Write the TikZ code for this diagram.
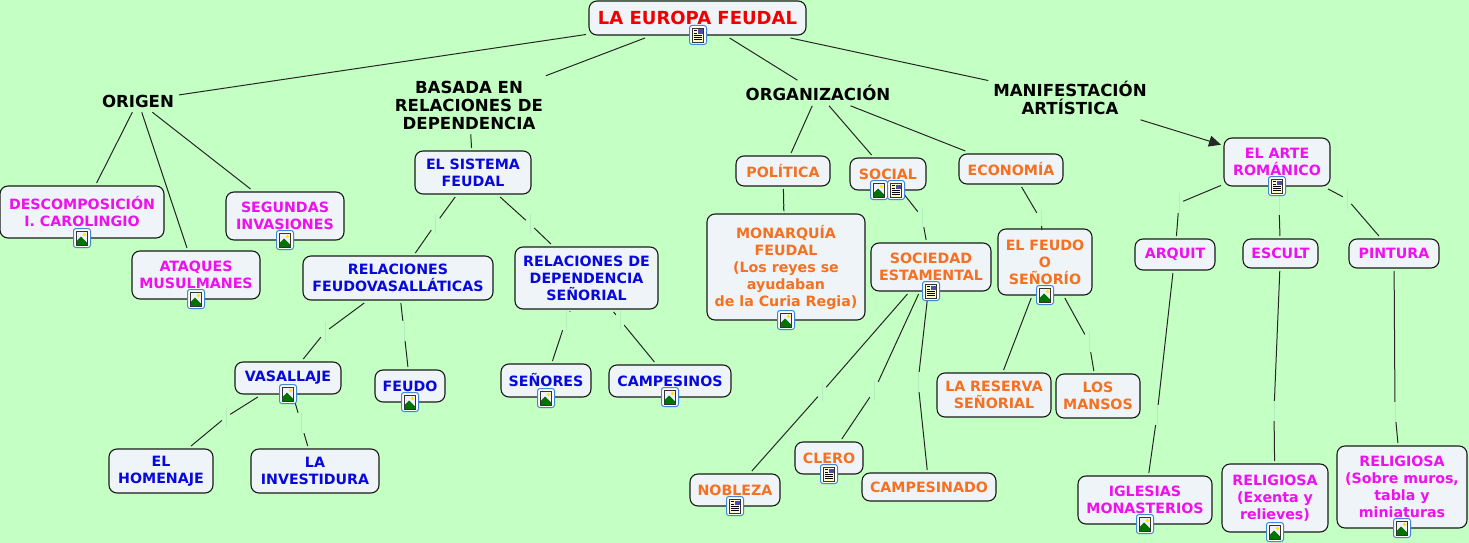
\documentclass[tikz,border=0pt]{standalone}
\usepackage{fontspec}
\setmainfont{DejaVu Sans}
\usetikzlibrary{arrows.meta}
\definecolor{bgcol}{HTML}{C4FFC4}
\definecolor{boxcol}{HTML}{EEF4F8}
\definecolor{palecol}{HTML}{B4EEBC}
\definecolor{magcol}{HTML}{EE10EE}
\definecolor{bluecol}{HTML}{0808DC}
\definecolor{orgcol}{HTML}{F57020}
\definecolor{redcol}{HTML}{EE0000}
\definecolor{framecol}{HTML}{3F86D6}
\tikzset{
  concept/.style={rectangle, rounded corners=8pt, draw=black!90, line width=1.1pt, fill=boxcol, inner sep=0pt, outer sep=3pt, align=center, font=\fontsize{14.2}{17}\selectfont\bfseries},
  plainlabel/.style={inner sep=2pt, outer sep=3pt, align=center, font=\fontsize{16.6}{18}\selectfont\bfseries, text=black},
  gapmark/.style={rectangle, minimum width=8pt, minimum height=20pt, inner sep=0pt, path picture={\draw[palecol, line width=0.8pt] (path picture bounding box.north) -- (path picture bounding box.south);}},
  link/.style={line width=1pt, color=black!85},
  iconframe/.style={rounded corners=2.5pt, fill=white, draw=framecol, line width=1pt},
  imgicon/.pic={
    \draw[iconframe] (-8.5pt,-9.5pt) rectangle (8.5pt,9.5pt);
    \fill[blue!6] (-5.5pt,-7pt) rectangle (5.5pt,7pt);
    \fill[green!45!black] (-5.5pt,-7pt) -- (-5.5pt,-3pt) -- (-1pt,1.5pt) -- (5.5pt,-5pt) -- (5.5pt,-7pt) -- cycle;
    \fill[yellow!90!orange] (2.5pt,3.5pt) circle (1.8pt);
    \draw[black!80, line width=0.7pt] (-5.5pt,-7pt) rectangle (5.5pt,7pt);
  },
  noteicon/.pic={
    \draw[iconframe] (-8.5pt,-9.5pt) rectangle (8.5pt,9.5pt);
    \fill[yellow!20] (-5.5pt,-7pt) rectangle (5.5pt,7pt);
    \fill[blue!40!gray] (0pt,1pt) rectangle (4.5pt,5.5pt);
    \draw[black, line width=0.7pt] (-4pt,4.5pt) -- (-1pt,4.5pt) (-4pt,2pt) -- (-1pt,2pt) (-4pt,-0.5pt) -- (4pt,-0.5pt) (-4pt,-2.5pt) -- (4pt,-2.5pt) (-4pt,-4.5pt) -- (4pt,-4.5pt);
    \draw[black!80, line width=0.7pt] (-5.5pt,-7pt) rectangle (5.5pt,7pt);
  },
}

\begin{document}
\begin{tikzpicture}
\useasboundingbox (0pt, 0pt) rectangle (1469pt, -543pt);
\fill[bgcol] (0pt, 0pt) rectangle (1469pt, -543pt);
% link label gaps
\node (g1) [gapmark] at (435.5pt, -224pt) {};
\node (g2) [gapmark] at (530pt, -224pt) {};
\node (g3) [gapmark] at (325pt, -332pt) {};
\node (g4) [gapmark] at (404pt, -331pt) {};
\node (g5) [gapmark] at (226pt, -417pt) {};
\node (g6) [gapmark] at (301pt, -423pt) {};
\node (g7) [gapmark] at (566pt, -320pt) {};
\node (g8) [gapmark] at (620pt, -320pt) {};
\node (g9) [gapmark] at (784pt, -216pt) {};
\node (g10) [gapmark] at (922pt, -217pt) {};
\node (g11) [gapmark] at (1041pt, -220pt) {};
\node (g12) [gapmark] at (822pt, -392pt) {};
\node (g13) [gapmark] at (874pt, -391pt) {};
\node (g14) [gapmark] at (918pt, -382pt) {};
\node (g15) [gapmark] at (1089pt, -342pt) {};
\node (g16) [gapmark] at (1179pt, -203pt) {};
\node (g17) [gapmark] at (1279pt, -205pt) {};
\node (g18) [gapmark] at (1347pt, -199pt) {};
\node (g19) [gapmark] at (1157pt, -415pt) {};
\node (g20) [gapmark] at (1274pt, -411pt) {};
\node (g21) [gapmark] at (1395pt, -412pt) {};
% top level
\node (europa) [concept, minimum width=217pt, minimum height=34pt, text=redcol, font=\fontsize{18}{20}\selectfont\bfseries] at (697.5pt, -18pt) {LA EUROPA FEUDAL};
\node (origen) [plainlabel] at (138pt, -101pt) {ORIGEN};
\node (basada) [plainlabel] at (469pt, -105pt) {BASADA EN\\RELACIONES DE\\DEPENDENCIA};
\node (organiza) [plainlabel] at (818pt, -93pt) {ORGANIZACIÓN};
\node (manifiesta) [plainlabel] at (1070pt, -98pt) {MANIFESTACIÓN\\ARTÍSTICA};
% origen
\node (descomp) [concept, minimum width=164pt, minimum height=52pt, text=magcol] at (82pt, -212pt) {DESCOMPOSICIÓN\\I. CAROLINGIO};
\node (ataques) [concept, minimum width=128pt, minimum height=48pt, text=magcol] at (196pt, -275pt) {ATAQUES\\MUSULMANES};
\node (segundas) [concept, minimum width=118pt, minimum height=48pt, text=magcol] at (285pt, -216pt) {SEGUNDAS\\INVASIONES};
% sistema feudal
\node (sistema) [concept, minimum width=116pt, minimum height=43pt, text=bluecol] at (473pt, -172.5pt) {EL SISTEMA\\FEUDAL};
\node (feudovas) [concept, minimum width=190pt, minimum height=44pt, text=bluecol] at (398pt, -278pt) {RELACIONES\\FEUDOVASALLÁTICAS};
\node (depsen) [concept, minimum width=143pt, minimum height=62pt, text=bluecol] at (586.5pt, -278pt) {RELACIONES DE\\DEPENDENCIA\\SEÑORIAL};
\node (vasallaje) [concept, minimum width=106pt, minimum height=32pt, text=bluecol] at (288pt, -378pt) {VASALLAJE};
\node (feudo) [concept, minimum width=70pt, minimum height=32pt, text=bluecol] at (410pt, -386pt) {FEUDO};
\node (senores) [concept, minimum width=90pt, minimum height=33pt, text=bluecol] at (546pt, -380.5pt) {SEÑORES};
\node (campos) [concept, minimum width=122pt, minimum height=32pt, text=bluecol] at (670pt, -381pt) {CAMPESINOS};
\node (homenaje) [concept, minimum width=104pt, minimum height=44pt, text=bluecol] at (161pt, -471pt) {EL\\HOMENAJE};
\node (investi) [concept, minimum width=128pt, minimum height=44pt, text=bluecol] at (315pt, -471pt) {LA\\INVESTIDURA};
% organizacion
\node (politica) [concept, minimum width=94pt, minimum height=30pt, text=orgcol] at (783pt, -171pt) {POLÍTICA};
\node (social) [concept, minimum width=76pt, minimum height=32pt, text=orgcol] at (888pt, -174pt) {SOCIAL};
\node (economia) [concept, minimum width=104pt, minimum height=30pt, text=orgcol] at (1011pt, -169pt) {ECONOMÍA};
\node (monarquia) [concept, minimum width=158pt, minimum height=106pt, text=orgcol] at (786pt, -267pt) {MONARQUÍA\\FEUDAL\\(Los reyes se\\ayudaban\\de la Curia Regia)};
\node (estamental) [concept, minimum width=120pt, minimum height=48pt, text=orgcol] at (931pt, -267pt) {SOCIEDAD\\ESTAMENTAL};
\node (senorio) [concept, minimum width=94pt, minimum height=66pt, text=orgcol] at (1045pt, -262pt) {EL FEUDO\\O\\SEÑORÍO};
\node (reserva) [concept, minimum width=114pt, minimum height=44pt, text=orgcol] at (994pt, -395pt) {LA RESERVA\\SEÑORIAL};
\node (mansos) [concept, minimum width=84pt, minimum height=44pt, text=orgcol] at (1098pt, -396pt) {LOS\\MANSOS};
\node (nobleza) [concept, minimum width=90pt, minimum height=32pt, text=orgcol] at (735pt, -490pt) {NOBLEZA};
\node (clero) [concept, minimum width=68pt, minimum height=32pt, text=orgcol] at (829pt, -458pt) {CLERO};
\node (campesina) [concept, minimum width=134pt, minimum height=28pt, text=orgcol] at (929pt, -487pt) {CAMPESINADO};
% arte
\node (romanico) [concept, minimum width=106pt, minimum height=48pt, text=magcol] at (1277pt, -162pt) {EL ARTE\\ROMÁNICO};
\node (arquit) [concept, minimum width=80pt, minimum height=31pt, text=magcol] at (1175pt, -254.5pt) {ARQUIT};
\node (escult) [concept, minimum width=75pt, minimum height=29pt, text=magcol] at (1280.5pt, -253.5pt) {ESCULT};
\node (pintura) [concept, minimum width=90pt, minimum height=29pt, text=magcol] at (1394pt, -253.5pt) {PINTURA};
\node (iglesias) [concept, minimum width=134pt, minimum height=48pt, text=magcol] at (1145pt, -500pt) {IGLESIAS\\MONASTERIOS};
\node (exenta) [concept, minimum width=106pt, minimum height=68pt, text=magcol] at (1275pt, -498pt) {RELIGIOSA\\(Exenta y\\relieves)};
\node (muros) [concept, minimum width=130pt, minimum height=82pt, text=magcol] at (1402pt, -487pt) {RELIGIOSA\\(Sobre muros,\\tabla y\\miniaturas};
% connectors
\draw [link] (europa) to (origen);
\draw [link] (europa) to (basada);
\draw [link] (europa) to (organiza);
\draw [link] (europa) to (manifiesta);
\draw [link, -{Triangle[length=12pt, width=11pt]}] (manifiesta) to (romanico);
\draw [link] (origen) to (descomp);
\draw [link] (origen) to (ataques);
\draw [link] (origen) to (segundas);
\draw [link] (basada) to (sistema);
\draw [link] (sistema) to (g1);
\draw [link] (g1) to (feudovas);
\draw [link] (sistema) to (g2);
\draw [link] (g2) to (depsen);
\draw [link] (feudovas) to (g3);
\draw [link] (g3) to (vasallaje);
\draw [link] (feudovas) to (g4);
\draw [link] (g4) to (feudo);
\draw [link] (vasallaje) to (g5);
\draw [link] (g5) to (homenaje);
\draw [link] (vasallaje) to (g6);
\draw [link] (g6) to (investi);
\draw [link] (depsen) to (g7);
\draw [link] (g7) to (senores);
\draw [link] (depsen) to (g8);
\draw [link] (g8) to (campos);
\draw [link] (organiza) to (politica);
\draw [link] (organiza) to (social);
\draw [link] (organiza) to (economia);
\draw [link] (politica) to (g9);
\draw [link] (g9) to (monarquia);
\draw [link] (social) to (g10);
\draw [link] (g10) to (estamental);
\draw [link] (economia) to (g11);
\draw [link] (g11) to (senorio);
\draw [link] (estamental) to (g12);
\draw [link] (g12) to (nobleza);
\draw [link] (estamental) to (g13);
\draw [link] (g13) to (clero);
\draw [link] (estamental) to (g14);
\draw [link] (g14) to (campesina);
\draw [link] (senorio) to (reserva);
\draw [link] (senorio) to (g15);
\draw [link] (g15) to (mansos);
\draw [link] (romanico) to (g16);
\draw [link] (g16) to (arquit);
\draw [link] (romanico) to (g17);
\draw [link] (g17) to (escult);
\draw [link] (romanico) to (g18);
\draw [link] (g18) to (pintura);
\draw [link] (arquit) to (g19);
\draw [link] (g19) to (iglesias);
\draw [link] (escult) to (g20);
\draw [link] (g20) to (exenta);
\draw [link] (pintura) to (g21);
\draw [link] (g21) to (muros);
% icons
\pic at (698pt, -35pt) {noteicon};
\pic at (82pt, -238pt) {imgicon};
\pic at (196pt, -299pt) {imgicon};
\pic at (285pt, -240pt) {imgicon};
\pic at (288pt, -394pt) {imgicon};
\pic at (410pt, -402pt) {imgicon};
\pic at (546pt, -398pt) {imgicon};
\pic at (670pt, -397pt) {imgicon};
\pic at (786pt, -320pt) {imgicon};
\pic at (879pt, -190pt) {imgicon};
\pic at (896pt, -190pt) {noteicon};
\pic at (931pt, -291pt) {noteicon};
\pic at (1045pt, -295pt) {imgicon};
\pic at (735pt, -506pt) {noteicon};
\pic at (829pt, -474pt) {noteicon};
\pic at (1277pt, -186pt) {noteicon};
\pic at (1145pt, -524pt) {imgicon};
\pic at (1275pt, -532pt) {imgicon};
\pic at (1402pt, -528pt) {imgicon};
\end{tikzpicture}
\end{document}
